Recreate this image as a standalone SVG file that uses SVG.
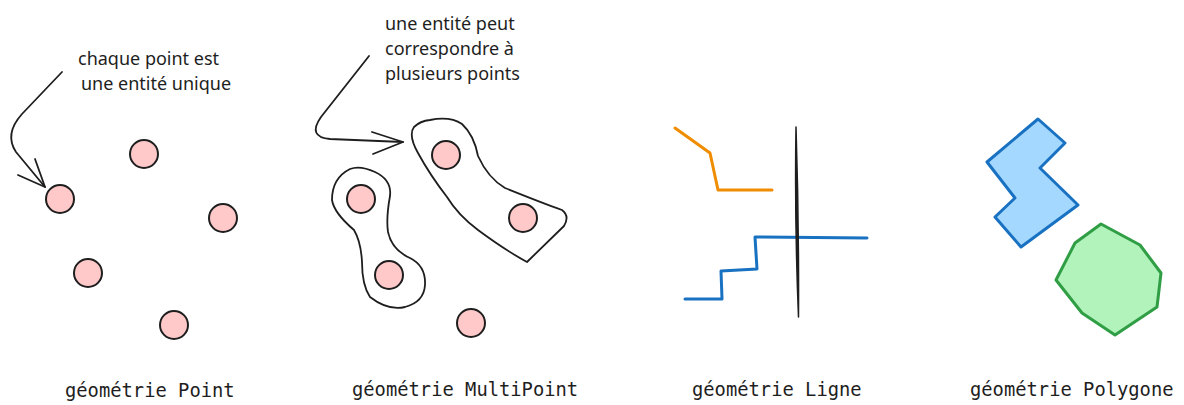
<svg xmlns="http://www.w3.org/2000/svg" width="1184" height="405" viewBox="0 0 1184 405">
<style>
.pt{fill:#ffc9c9;stroke:#1e1e1e;stroke-width:2}
.hand{font-family:"Noto Sans","Liberation Sans",sans-serif;font-size:18px;fill:#1e1e1e}
.lbl{font-family:"DejaVu Sans Mono","Liberation Mono",monospace;font-size:18.8px;fill:#1e1e1e}
.blob{fill:none;stroke:#1e1e1e;stroke-width:1.8;stroke-linejoin:round}
.arr{fill:none;stroke:#1e1e1e;stroke-width:1.8;stroke-linecap:round;stroke-linejoin:round}
</style>
<rect width="1184" height="405" fill="#ffffff"/>
<g id="connectors">
  <path class="arr" d="M62,72 L22,114 Q4,134 16,152 L45,187"/>
  <path class="arr" d="M18,175 L45,187 L35,159"/>
  <path class="arr" d="M369,56 L321,117 Q307,137 330,139 L403,142"/>
  <path class="arr" d="M372,132 L403,142 L373,154"/>
</g>
<g id="note-point">
  <text class="hand" x="78" y="65">chaque point est</text>
  <text class="hand" x="81" y="90">une entité unique</text>
</g>
<g id="note-multipoint">
  <text class="hand" x="385" y="30">une entité peut</text>
  <text class="hand" x="385" y="55">correspondre à</text>
  <text class="hand" x="385" y="80">plusieurs points</text>
</g>
<g id="points">
  <circle class="pt" cx="144" cy="154" r="14"/>
  <circle class="pt" cx="60" cy="199" r="14"/>
  <circle class="pt" cx="223" cy="218" r="14"/>
  <circle class="pt" cx="88" cy="273" r="14"/>
  <circle class="pt" cx="174" cy="325" r="14"/>
</g>
<g id="multipoint-a">
  <path class="blob" d="M430,120 Q450,116 462,124 Q474,135 478,156 Q488,178 505,188 Q545,204 562,210 Q570,216 564,226 L527,262 Q505,250 478,230 Q458,215 447,197 Q430,175 418,153 Q408,135 414,127 Q420,121 430,120 Z"/>
  <circle class="pt" cx="446" cy="155" r="14"/>
  <circle class="pt" cx="523" cy="218" r="14"/>
</g>
<g id="multipoint-b">
  <path class="blob" d="M350,169 Q360,165 375,172 Q392,180 390,196 Q386,218 388,232 Q392,250 410,258 Q426,266 425,285 Q424,302 405,307 Q388,311 370,297 Q362,285 362,262 Q361,242 354,230 Q334,213 332,200 Q332,178 350,169 Z"/>
  <circle class="pt" cx="361" cy="199" r="14"/>
  <circle class="pt" cx="389" cy="275" r="14"/>
</g>
<g id="point-single">
  <circle class="pt" cx="471" cy="323" r="14"/>
</g>
<g id="line-orange">
  <polyline points="675,128 710,153 718,190 772,190" fill="none" stroke="#f08c00" stroke-width="3" stroke-linecap="round" stroke-linejoin="round"/>
</g>
<g id="line-blue">
  <polyline points="685,299 722,299 721,271 757,269 755,237 867,238" fill="none" stroke="#1971c2" stroke-width="3" stroke-linecap="round" stroke-linejoin="round"/>
</g>
<g id="line-black">
  <path d="M796,127 Q799,220 798.5,317 Q794.5,220 796,127 Z" fill="#1e1e1e" stroke="#1e1e1e" stroke-width="1.5" stroke-linejoin="round"/>
</g>
<g id="polygon-blue">
  <polygon points="1038,119 1065,143 1040,168 1078,205 1021,247 995,217 1015,198 987,162" fill="#a5d8ff" stroke="#1971c2" stroke-width="3" stroke-linejoin="round"/>
</g>
<g id="polygon-green">
  <polygon points="1101,224 1140,245 1161,273 1157,307 1115,335 1082,313 1056,280 1075,243" fill="#b2f2bb" stroke="#2f9e44" stroke-width="3" stroke-linejoin="round"/>
</g>
<g id="labels">
  <text class="lbl" x="65" y="397">géométrie Point</text>
  <text class="lbl" x="352" y="396">géométrie MultiPoint</text>
  <text class="lbl" x="692" y="396">géométrie Ligne</text>
  <text class="lbl" x="970" y="396">géométrie Polygone</text>
</g>
</svg>
